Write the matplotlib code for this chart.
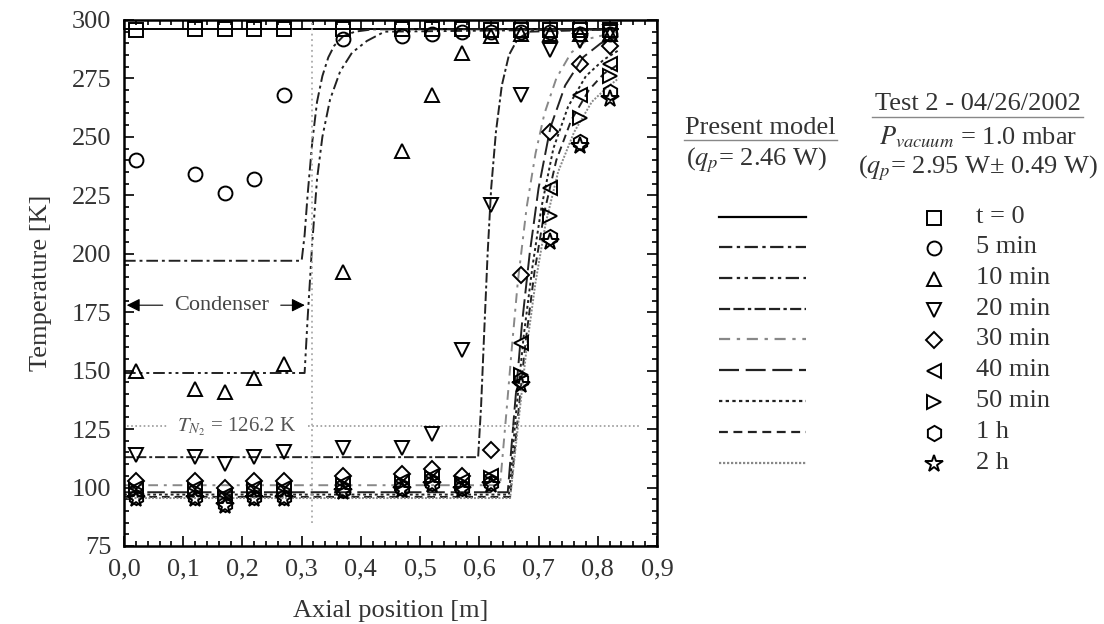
import matplotlib
matplotlib.use("Agg")
import matplotlib.pyplot as plt
from matplotlib.ticker import MultipleLocator, FuncFormatter

plt.rcParams["font.family"] = ["Liberation Serif", "DejaVu Serif"]
plt.rcParams["mathtext.fontset"] = "stix"

# measured data: axial positions of the thermocouples
x_pos = [0.02, 0.12, 0.17, 0.22, 0.27, 0.37, 0.47, 0.52, 0.57, 0.62, 0.67, 0.72, 0.77, 0.82]

labels = ["t = 0", "5 min", "10 min", "20 min", "30 min", "40 min", "50 min", "1 h", "2 h"]
markers = ["s", "o", "^", "v", "D", "<", ">", "h", "*"]

T_0 = [295.5, 296, 296, 296, 296, 296, 296, 296, 296, 295.5, 295.5, 295.5, 295.5, 295.5]
T_5min = [240, 234, 226, 232, 268, 292, 293, 294, 295, 295, 295, 295, 294, 294]
T_10min = [150, 142, 141, 147, 153, 192, 244, 268, 286, 293, 294, 294, 294, 294]
T_20min = [114, 113, 110, 113, 115, 117, 117, 123, 159, 221, 268, 287, 291, 295]
T_30min = [103, 103, 100, 103, 103, 105, 106, 108, 105, 116, 191, 252, 281, 289]
T_40min = [100, 100, 97, 100, 100, 102, 103, 105, 103, 105, 162, 228, 268, 281]
T_50min = [99, 99, 96, 99, 99, 101, 102, 104, 102, 104, 148, 216, 258, 276]
T_1h = [96, 96, 93, 96, 96, 99, 100, 102, 100, 102, 146, 207, 248, 269]
T_2h = [95, 95, 92, 95, 95, 98, 99, 101, 99, 101, 144, 205, 246, 266]
measured = [T_0, T_5min, T_10min, T_20min, T_30min, T_40min, T_50min, T_1h, T_2h]

# present model curves
mx_0 = [0.0, 0.835]
mT_0 = [296, 296]
mx_5min = [0.0, 0.30, 0.305, 0.31, 0.318, 0.326, 0.335, 0.345, 0.355, 0.37, 0.39, 0.42, 0.835]
mT_5min = [197, 197, 208, 225, 248, 265, 276, 284, 289, 293, 295, 296, 296]
mx_10min = [0.0, 0.305, 0.31, 0.318, 0.326, 0.335, 0.348, 0.365, 0.385, 0.41, 0.44, 0.835]
mT_10min = [149, 149, 172, 205, 232, 250, 266, 278, 286, 291, 295, 296]
mx_20min = [0.0, 0.598, 0.603, 0.608, 0.614, 0.62, 0.628, 0.638, 0.65, 0.665, 0.685, 0.835]
mT_20min = [113, 113, 135, 165, 200, 228, 252, 272, 285, 292, 295, 296]
mx_30min = [0.0, 0.635, 0.645, 0.655, 0.665, 0.68, 0.695, 0.71, 0.73, 0.755, 0.785, 0.835]
mT_30min = [101, 101, 130, 160, 188, 220, 243, 260, 275, 286, 292, 295]
mx_40min = [0.0, 0.648, 0.66, 0.672, 0.685, 0.70, 0.72, 0.745, 0.775, 0.805, 0.835]
mT_40min = [98, 98, 135, 170, 200, 228, 254, 272, 284, 290, 293]
mx_50min = [0.0, 0.65, 0.662, 0.675, 0.69, 0.705, 0.725, 0.75, 0.78, 0.81, 0.835]
mT_50min = [97, 97, 132, 165, 195, 220, 245, 263, 276, 283, 287]
mx_1h = [0.0, 0.652, 0.665, 0.678, 0.693, 0.71, 0.73, 0.755, 0.785, 0.81, 0.835]
mT_1h = [96, 96, 130, 162, 192, 218, 240, 257, 270, 277, 281]
mx_2h = [0.0, 0.652, 0.666, 0.68, 0.695, 0.712, 0.733, 0.76, 0.79, 0.815, 0.835]
mT_2h = [95.5, 95.5, 128, 160, 188, 213, 235, 252, 265, 271, 275]
model = [(mx_0, mT_0), (mx_5min, mT_5min), (mx_10min, mT_10min), (mx_20min, mT_20min),
         (mx_30min, mT_30min), (mx_40min, mT_40min), (mx_50min, mT_50min),
         (mx_1h, mT_1h), (mx_2h, mT_2h)]

line_styles = [
    ("-", "black"),
    ((0, (6, 2, 1.5, 2)), "#222222"),
    ((0, (6, 2, 1.5, 2, 1.5, 2)), "#222222"),
    ((0, (5, 1.5, 5, 1.5, 1.5, 1.5)), "#222222"),
    ((0, (5, 3, 1.5, 3)), "#888888"),
    ((0, (9, 3)), "#222222"),
    ((0, (1.5, 1.5)), "#222222"),
    ((0, (4, 2.5)), "#222222"),
    ((0, (1, 0.8)), "#888888"),
]

T_N2 = 126.2
x_cond = 0.318


def marker_size(m):
    if m == "*":
        return 13
    if m == "D":
        return 8.5
    if m == "h":
        return 11
    return 10


fig = plt.figure(figsize=(11.04, 6.24), dpi=100)
ax = fig.add_axes([0.1123, 0.125, 0.4828, 0.843])

for (mx, mT), (ls, col) in zip(model, line_styles):
    ax.plot(mx, mT, linestyle=ls, color=col, lw=1.4, zorder=2)

for T, m in zip(measured, markers):
    ax.plot(x_pos, T, linestyle="none", marker=m, ms=marker_size(m), mfc="none",
            mec="black", mew=1.4, zorder=3)

# nitrogen saturation line and condenser boundary
ax.plot([0.005, 0.075], [T_N2, T_N2], ls=(0, (1, 1.5)), color="#999999", lw=1.2)
ax.plot([0.31, 0.87], [T_N2, T_N2], ls=(0, (1, 1.5)), color="#999999", lw=1.2)
ax.text(0.19, T_N2, "$T_{N_2}$ = 126.2 K", ha="center", va="center",
        fontsize=15, color="#555555")
ax.plot([x_cond, x_cond], [85, 300], ls=(0, (1, 2)), color="#aaaaaa", lw=1.3)

ax.annotate("", xy=(0.0, 178), xytext=(0.07, 178),
            arrowprops=dict(arrowstyle="-|>", color="black", lw=0.8, mutation_scale=20))
ax.annotate("", xy=(0.31, 178), xytext=(0.26, 178),
            arrowprops=dict(arrowstyle="-|>", color="black", lw=0.8, mutation_scale=20))
ax.text(0.165, 178, "Condenser", ha="center", va="center", fontsize=16, color="#444444")

ax.set_xlim(0.0, 0.9)
ax.set_ylim(75, 300)
ax.xaxis.set_major_locator(MultipleLocator(0.1))
ax.xaxis.set_minor_locator(MultipleLocator(0.02))
ax.yaxis.set_major_locator(MultipleLocator(25))
ax.yaxis.set_minor_locator(MultipleLocator(5))
ax.xaxis.set_major_formatter(FuncFormatter(lambda v, p: f"{v:.1f}".replace(".", ",")))
ax.tick_params(which="both", direction="in", top=True, right=True, width=1.2,
               labelsize=19, labelcolor="#333333", pad=9)
ax.tick_params(which="major", length=7)
ax.tick_params(which="minor", length=3.5)
for s in ax.spines.values():
    s.set_linewidth(1.8)
ax.set_xlabel("Axial position [m]", fontsize=19, color="#333333", labelpad=14)
ax.set_ylabel("Temperature [K]", fontsize=19, color="#333333", labelpad=14)

# legend area drawn in pixel coordinates
lg = fig.add_axes([0, 0, 1, 1])
lg.set_xlim(0, 1104)
lg.set_ylim(624, 0)
lg.axis("off")

tc = "#333333"
fs = 19
lg.text(760, 128, "Present model", ha="center", va="center", fontsize=fs, color=tc)
lg.plot([684, 837], [140, 140], color="#888888", lw=1)
lg.text(757, 160, "($q_p$= 2.46 W)", ha="center", va="center", fontsize=fs, color=tc)
lg.text(978, 104, "Test 2 - 04/26/2002", ha="center", va="center", fontsize=fs, color=tc)
lg.plot([872, 1083], [117, 117], color="#888888", lw=1)
lg.text(978, 137, "$P_{vacuum}$ = 1.0 mbar", ha="center", va="center", fontsize=fs, color=tc)
lg.text(978, 168, "($q_p$= 2.95 W\u00b1 0.49 W)", ha="center", va="center", fontsize=fs, color=tc)

row_y = [217, 247, 278, 309, 339, 370, 401, 432, 463]
for i, y in enumerate(row_y):
    ls, col = line_styles[i]
    lg.plot([719, 806], [y, y], linestyle=ls, color=col, lw=1.6)
    m = markers[i]
    lg.plot([934], [y + 1], marker=m, ms=marker_size(m), mfc="none", mec="black", mew=1.4)
    lg.text(976, y, labels[i], ha="left", va="center", fontsize=fs, color=tc)

fig.savefig("out.png", dpi=100)
